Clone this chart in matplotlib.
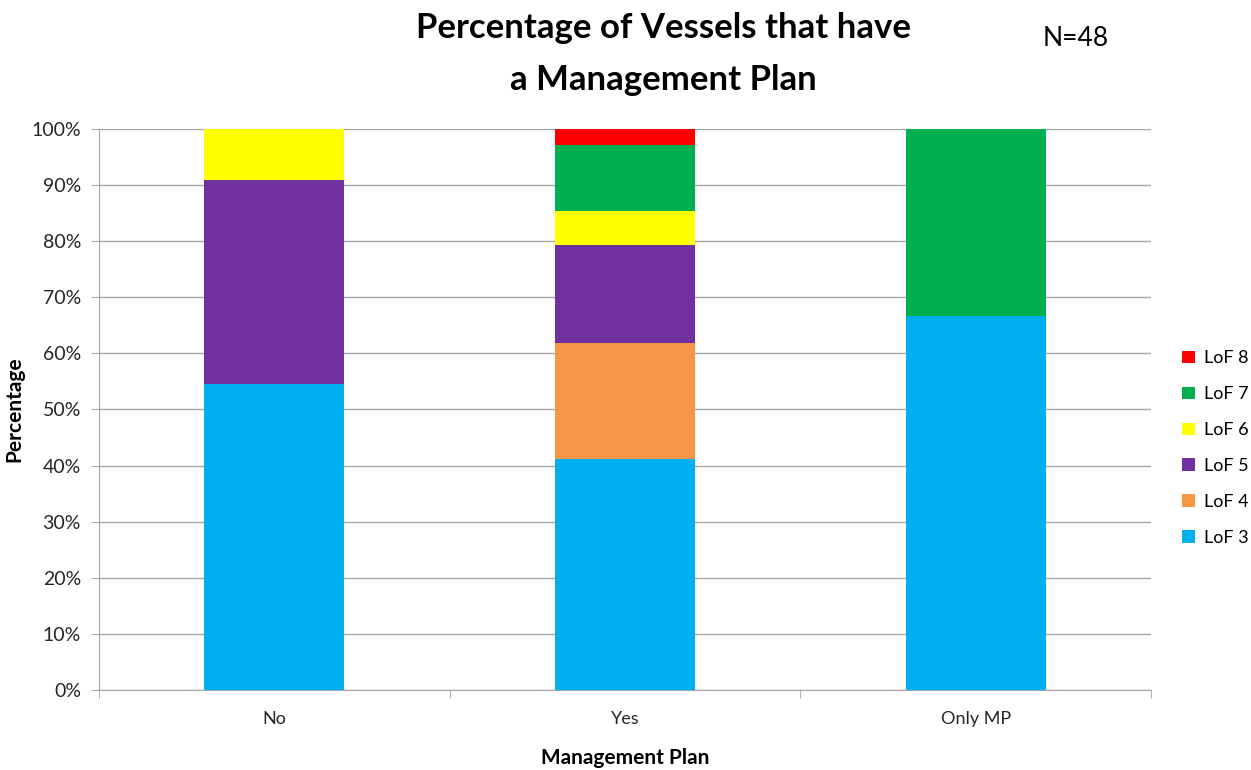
import matplotlib
matplotlib.use("Agg")
import matplotlib.pyplot as plt
from matplotlib.ticker import MultipleLocator, FuncFormatter
import numpy as np

plt.rcParams['font.family'] = ['Lato', 'DejaVu Sans']

categories = ["No", "Yes", "Only MP"]
series_names = ["LoF 3", "LoF 4", "LoF 5", "LoF 6", "LoF 7", "LoF 8"]
lof3 = [54.5, 41.2, 66.7]
lof4 = [0.0, 20.6, 0.0]
lof5 = [36.4, 17.6, 0.0]
lof6 = [9.1, 5.9, 0.0]
lof7 = [0.0, 11.8, 33.3]
lof8 = [0.0, 2.9, 0.0]
series_values = [lof3, lof4, lof5, lof6, lof7, lof8]
colors = ["#00B0F0", "#F79646", "#7030A0", "#FFFF00", "#00B050", "#FF0000"]

fig = plt.figure(figsize=(12.51, 7.70), dpi=100)
ax = fig.add_axes([0.0791, 0.1039, 0.8410, 0.7286])

x = np.arange(len(categories))
bottom = np.zeros(len(categories))
handles = []
for name, vals, c in zip(series_names, series_values, colors):
    vals = np.array(vals)
    h = ax.bar(x, vals, width=0.4, bottom=bottom, color=c, label=name, zorder=3)
    bottom += vals
    handles.append(h)

ax.set_xlim(-0.5, len(categories) - 0.5)
ax.set_ylim(0, 100)
ax.yaxis.set_major_locator(MultipleLocator(10))
ax.yaxis.set_major_formatter(FuncFormatter(lambda v, p: f"{int(round(v))}%"))
ax.grid(axis='y', color='#A6A6A6', linewidth=1, zorder=0)
ax.set_axisbelow(True)

# category labels centred, boundary ticks between categories
ax.set_xticks(x)
ax.set_xticklabels(categories, fontsize=13, color='#262626')
ax.tick_params(axis='x', length=0, pad=15)
ax.set_xticks(np.arange(-0.5, len(categories), 1.0), minor=True)
ax.tick_params(axis='x', which='minor', length=6, color='#A6A6A6')
ax.tick_params(axis='y', length=6, color='#A6A6A6', labelsize=14, labelcolor='#262626', pad=7)

for s in ['top', 'right']:
    ax.spines[s].set_visible(False)
for s in ['left', 'bottom']:
    ax.spines[s].set_color('#A6A6A6')

ax.set_xlabel("Management Plan", fontsize=15, fontweight='bold', labelpad=15)
ax.set_ylabel("Percentage", fontsize=15, fontweight='bold', labelpad=5)

fig.text(0.530, 0.964, "Percentage of Vessels that have", ha='center', va='center',
         fontsize=25, fontweight='bold')
fig.text(0.530, 0.896, "a Management Plan", ha='center', va='center',
         fontsize=25, fontweight='bold')
fig.text(0.860, 0.950, "N=48", ha='center', va='center', fontsize=19)

leg = fig.legend(handles[::-1], series_names[::-1], loc='center left',
                 bbox_to_anchor=(0.932, 0.418), frameon=False, fontsize=13,
                 handlelength=0.7, handleheight=0.7, handletextpad=0.5,
                 labelspacing=1.1)

fig.savefig("out.png", dpi=100)
